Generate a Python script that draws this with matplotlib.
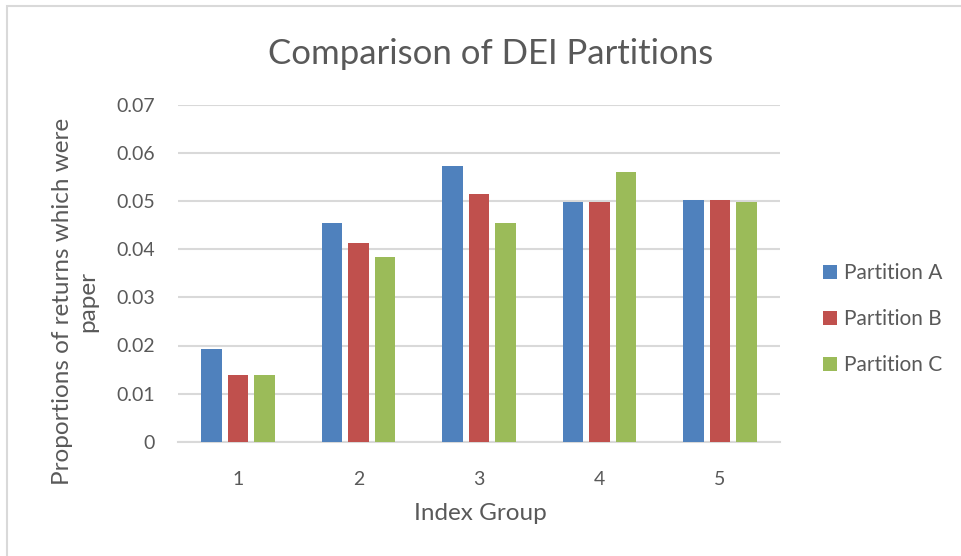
import numpy as np
import matplotlib.pyplot as plt
from matplotlib.patches import Rectangle, Patch

plt.rcParams['font.family'] = ['Lato', 'DejaVu Sans']

groups = ["1", "2", "3", "4", "5"]
part_a = [0.0193, 0.0454, 0.0574, 0.0499, 0.0503]
part_b = [0.0139, 0.0414, 0.0516, 0.0499, 0.0503]
part_c = [0.0139, 0.0383, 0.0454, 0.0561, 0.0499]
series_names = ["Partition A", "Partition B", "Partition C"]
colors = ["#4f81bd", "#c0504d", "#9bbb59"]
yticks = [0, 0.01, 0.02, 0.03, 0.04, 0.05, 0.06, 0.07]
ytick_labels = ["0", "0.01", "0.02", "0.03", "0.04", "0.05", "0.06", "0.07"]

txt = "#595959"
grid = "#d9d9d9"

fig = plt.figure(figsize=(9.62, 5.56), dpi=100)
ax = fig.add_axes([178/962, 1-441.7/556, 602/962, (441.7-105)/556])

x = np.arange(1, len(groups) + 1)
w = 0.17
step = 0.22
for i, (vals, c) in enumerate(zip([part_a, part_b, part_c], colors)):
    ax.bar(x + (i - 1) * step, vals, width=w, color=c, zorder=3)

ax.set_xlim(0.5, 5.5)
ax.set_ylim(0, 0.07)
ax.set_yticks(yticks)
ax.set_yticklabels(ytick_labels)
ax.set_xticks(x)
ax.set_xticklabels(groups)
ax.tick_params(axis='y', length=0, pad=16.5, labelsize=14, labelcolor=txt)
ax.tick_params(axis='x', length=0, pad=21, labelsize=14, labelcolor=txt)
ax.yaxis.grid(True, color=grid, linewidth=1.5, zorder=0)
for s in ["top", "right", "left"]:
    ax.spines[s].set_visible(False)
ax.spines["bottom"].set_color(grid)
ax.spines["bottom"].set_linewidth(1.5)

fig.text(491/962, 1-64/556, "Comparison of DEI Partitions", ha='center', va='baseline',
         fontsize=25, color=txt)
fig.text(480/962, 1-513/556, "Index Group", ha='center', va='center', fontsize=17.5, color=txt)
fig.text(75/962, 1-301/556, "Proportions of returns which were\npaper", rotation=90,
         ha='center', va='center', multialignment='center', fontsize=17.5, color=txt,
         linespacing=1.25)

handles = [Patch(facecolor=c) for c in colors]
fig.legend(handles, series_names, loc='center left', bbox_to_anchor=(823/962, 1-319/556),
           frameon=False, fontsize=15, labelcolor=txt, handlelength=0.68, handleheight=0.68,
           handletextpad=0.35, labelspacing=1.25, borderpad=0, borderaxespad=0)

fig.patches.append(Rectangle((7/962, -0.1), 1.2, 1.1 - 6/556, transform=fig.transFigure,
                             fill=False, edgecolor=grid, linewidth=1.5))

fig.savefig("out.png", dpi=100)
